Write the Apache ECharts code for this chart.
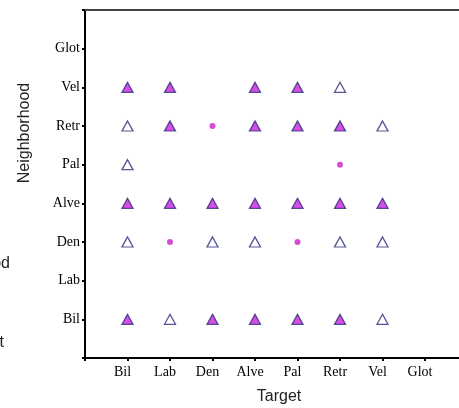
<!DOCTYPE html>
<html><head><meta charset="utf-8">
<script src="https://cdn.jsdelivr.net/npm/echarts@6/dist/echarts.min.js"></script>
<style>html,body{margin:0;padding:0;background:#fff}#c{width:459px;height:408px}</style>
</head><body><div id="c"></div>
<script>
var categories = ['Bil','Lab','Den','Alve','Pal','Retr','Vel','Glot'];
// [Target, Neighborhood]
var filledTriangles = [
  ['Bil','Vel'],['Lab','Vel'],['Alve','Vel'],['Pal','Vel'],
  ['Lab','Retr'],['Alve','Retr'],['Pal','Retr'],['Retr','Retr'],
  ['Bil','Alve'],['Lab','Alve'],['Den','Alve'],['Alve','Alve'],['Pal','Alve'],['Retr','Alve'],['Vel','Alve'],
  ['Bil','Bil'],['Den','Bil'],['Alve','Bil'],['Pal','Bil'],['Retr','Bil']
];
var openTriangles = [
  ['Retr','Vel'],
  ['Bil','Retr'],['Vel','Retr'],
  ['Bil','Pal'],
  ['Bil','Den'],['Den','Den'],['Alve','Den'],['Retr','Den'],['Vel','Den'],
  ['Lab','Bil'],['Vel','Bil']
];
var dots = [
  ['Den','Retr'],['Retr','Pal'],['Lab','Den'],['Pal','Den']
];

function toXY(list){ return list.map(function(p){ return [categories.indexOf(p[0])+1, categories.indexOf(p[1])+1]; }); }
function lab(v){ var i = Math.round(v); return (Math.abs(v-i)<1e-6 && i>=1 && i<=categories.length) ? categories[i-1] : ''; }

var serif = 'Liberation Serif';
var chart = echarts.init(document.getElementById('c'), null, {renderer:'canvas'});
chart.setOption({
  animation:false,
  backgroundColor:'#ffffff',
  grid:{left:85, right:0, top:10, bottom:50},
  xAxis:[{
    type:'value', min:0, max:8.8, interval:1, position:'bottom',
    axisLine:{show:true, lineStyle:{color:'#000', width:2}},
    axisTick:{show:true, length:3, lineStyle:{color:'#000', width:2}},
    splitLine:{show:false},
    axisLabel:{formatter:lab, fontFamily:serif, fontSize:14, color:'#000', margin:7, padding:[0,10,0,0], showMaxLabel:false}
  },{
    type:'value', min:0, max:8.8, position:'top',
    axisLine:{show:true, onZero:false, lineStyle:{color:'#444', width:2}},
    axisTick:{show:false}, axisLabel:{show:false}, splitLine:{show:false}
  }],
  yAxis:{
    type:'value', min:0, max:9, interval:1,
    axisLine:{show:true, lineStyle:{color:'#000', width:2}},
    axisTick:{show:true, length:3, lineStyle:{color:'#000', width:2}},
    splitLine:{show:false},
    axisLabel:{formatter:lab, fontFamily:serif, fontSize:14, color:'#000', margin:5}
  },
  series:[
    {type:'scatter', data:toXY(openTriangles), symbol:'triangle', symbolSize:[11,10],
     itemStyle:{color:'#ffffff', borderColor:'#2a2a7a', borderWidth:1.3}},
    {type:'scatter', data:toXY(filledTriangles), symbol:'triangle', symbolSize:[11,10],
     itemStyle:{color:'#cc22dd', borderColor:'#2a2a7a', borderWidth:1.3}},
    {type:'scatter', data:toXY(dots), symbol:'circle', symbolSize:6,
     itemStyle:{color:'#cc22cc'}}
  ],
  graphic:[
    {type:'text', x:25, y:133, rotation:Math.PI/2, style:{text:'Neighborhood', font:'16px "Liberation Sans"', fill:'#222', align:'center', verticalAlign:'middle'}},
    {type:'text', x:279, y:397, style:{text:'Target', font:'16px "Liberation Sans"', fill:'#222', align:'center', verticalAlign:'middle'}},
    {type:'text', x:10, y:264, style:{text:'Neighborhood', font:'16px "Liberation Sans"', fill:'#222', align:'right', verticalAlign:'middle'}},
    {type:'text', x:4, y:343, style:{text:'Target', font:'16px "Liberation Sans"', fill:'#222', align:'right', verticalAlign:'middle'}}
  ]
});
</script></body></html>
